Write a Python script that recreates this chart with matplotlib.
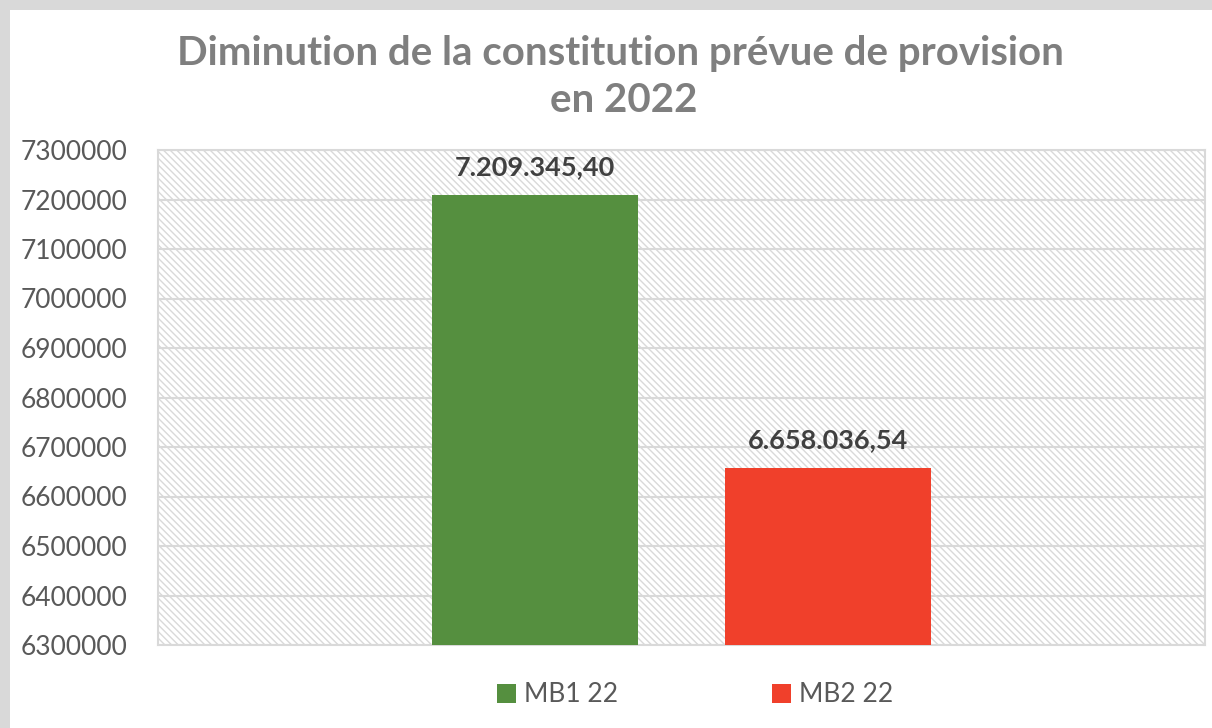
import matplotlib.pyplot as plt
import matplotlib as mpl
from matplotlib.patches import Rectangle, Patch

series = ['MB1 22', 'MB2 22']
values = [7209345.40, 6658036.54]
colors = ['#558f3f', '#f0402b']
y_ticks = list(range(6300000, 7300001, 100000))


def fmt_fr(v):
    s = f"{v:,.2f}"
    return s.replace(',', ' ').replace('.', ',').replace(' ', '.')


mpl.rcParams['font.family'] = ['Lato', 'DejaVu Sans']
mpl.rcParams['hatch.linewidth'] = 1.0
mpl.rcParams['hatch.color'] = '#d9d9d9'

fig = plt.figure(figsize=(12.12, 7.28), dpi=100)
fig.patch.set_facecolor('#d9d9d9')
# white card inside the grey frame
fig.patches.append(Rectangle((10 / 1212, 0), 1, 1 - 10 / 728, transform=fig.transFigure,
                             facecolor='white', edgecolor='none', zorder=-10))

ax = fig.add_axes([158 / 1212, 1 - 645 / 728, 1047 / 1212, 495 / 728])
ax.set_facecolor('none')

ax.add_patch(Rectangle((0, 0), 1, 1, transform=ax.transAxes, facecolor='white',
                       edgecolor='#d9d9d9', hatch='\\\\\\\\\\', linewidth=0, zorder=0))

positions = [-0.5, 0.5]
for pos, val, col, name in zip(positions, values, colors, series):
    ax.bar(pos, val - y_ticks[0], bottom=y_ticks[0], width=0.70, color=col, zorder=3, label=name)
    ax.annotate(fmt_fr(val), (pos, val), xytext=(0, 11), textcoords='offset points',
                ha='center', va='bottom', fontsize=19.5, fontweight='bold', color='#404040', zorder=4)

ax.set_xlim(-1.787, 1.787)
ax.set_ylim(y_ticks[0], y_ticks[-1])
ax.set_yticks(y_ticks)
ax.set_yticklabels([str(t) for t in y_ticks], fontsize=19, color='#595959')
ax.set_xticks([])
ax.tick_params(axis='y', length=0, pad=22)
ax.grid(axis='y', color='#d9d9d9', linewidth=1.5, zorder=1)
for sp in ax.spines.values():
    sp.set_color('#d9d9d9')
    sp.set_linewidth(1.5)

fig.text(620 / 1212, 1 - 53 / 728, 'Diminution de la constitution prévue de provision', ha='center', va='center',
         fontsize=29, fontweight='bold', color='#7f7f7f')
fig.text(624 / 1212, 1 - 101 / 728, 'en 2022', ha='center', va='center',
         fontsize=29, fontweight='bold', color='#7f7f7f')

handles = [Patch(facecolor=c, edgecolor='none') for c in colors]
fig.legend(handles, series, loc='center', bbox_to_anchor=(695 / 1212, 1 - 695 / 728), ncol=2, frameon=False,
           fontsize=19, labelcolor='#595959', handlelength=0.7, handleheight=0.7, handletextpad=0.3,
           columnspacing=5.85)

fig.savefig('out.png', dpi=100, facecolor=fig.get_facecolor())
